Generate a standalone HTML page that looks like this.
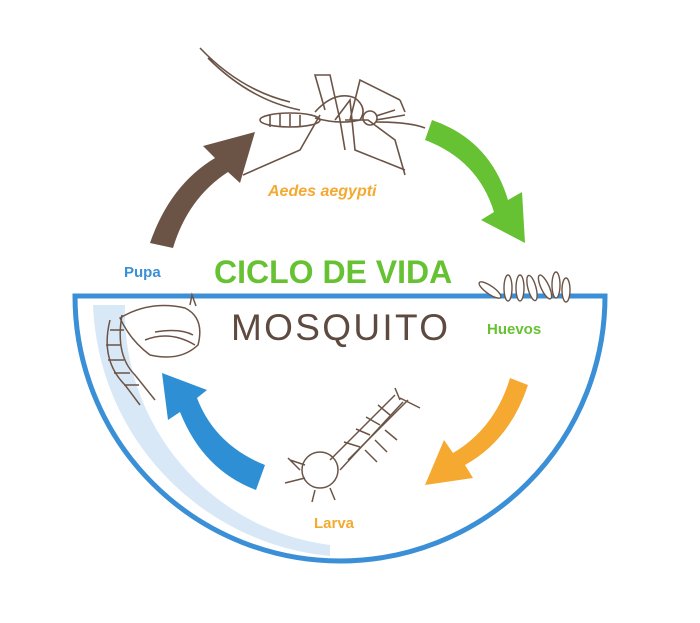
<!DOCTYPE html>
<html><head><meta charset="utf-8"><style>
body{margin:0;background:#fff;width:700px;height:623px;overflow:hidden}
svg{display:block}
text{font-family:"Liberation Sans",sans-serif}
</style></head><body>
<svg width="700" height="623" viewBox="0 0 700 623" xmlns="http://www.w3.org/2000/svg">
<!-- light water band -->
<path d="M93 305 L125 305 A235 235 0 0 0 330 545 L330 556 A262 262 0 0 1 93 305 Z" fill="#d8e8f7"/>
<!-- bowl -->
<path d="M75 296 L605 296 A265 265 0 0 1 75 296 Z" fill="none" stroke="#3a8fd6" stroke-width="5"/>
<!-- arrows -->
<path d="M150 243 Q170 185 215 158 L203 146 L255 132 L240 183 L228 172 Q188 198 173 248 Z" fill="#6b5446"/>
<path d="M425 140 L432 120 Q490 140 508 200 L522 192 L525 243 L481 220 L494 212 Q478 160 425 140 Z" fill="#66c232"/>
<path d="M510 378 L528 385 Q510 440 465 465 L473 478 L425 485 L444 440 L453 453 Q495 428 510 378 Z" fill="#f5a930"/>
<path d="M265 465 L256 490 Q203 470 180 412 L168 420 L162 373 L207 390 L197 398 Q215 445 265 465 Z" fill="#2f8fd4"/>
<!-- texts -->
<text x="214" y="283" font-size="32" font-weight="bold" fill="#66c232">CICLO DE VIDA</text>
<text x="231" y="340" font-size="37" fill="#5e4a3f" textLength="217">MOSQUITO</text>
<text x="124" y="277" font-size="15" font-weight="bold" fill="#3a8fd6">Pupa</text>
<text x="487" y="334" font-size="15" font-weight="bold" fill="#66c232">Huevos</text>
<text x="314" y="528" font-size="15" font-weight="bold" fill="#f5a930">Larva</text>
<text x="268" y="196" font-size="16" font-weight="bold" font-style="italic" fill="#f5a930">Aedes aegypti</text>
<!-- mosquito -->
<g fill="none" stroke="#6b5446" stroke-width="1.6">
<path d="M200 48 Q240 90 290 102 M208 58 Q250 100 300 110"/>
<ellipse cx="290" cy="120" rx="30" ry="7"/>
<path d="M270 115 v12 M280 114 v13 M290 114 v13 M300 115 v12"/>
<path d="M315 112 Q335 90 355 98 Q368 108 360 120 Q340 125 315 118"/>
<circle cx="370" cy="118" r="7"/>
<path d="M376 116 L395 110 M376 120 L405 115 M376 122 Q410 122 425 128 M400 100 L405 112"/>
<path d="M325 110 L315 75 L330 75 L340 120 L345 150 M320 115 L300 150 L243 175 M335 120 L350 100 L355 150 L405 170 M350 120 L360 80 L400 100 M345 120 L368 120 L395 140 L405 175"/>
</g>
<!-- eggs -->
<g fill="#fff" stroke="#6b5446" stroke-width="1.4">
<ellipse cx="490" cy="290" rx="4" ry="13" transform="rotate(-55 490 290)"/>
<ellipse cx="508" cy="288" rx="4" ry="13"/>
<ellipse cx="520" cy="288" rx="4" ry="13"/>
<ellipse cx="532" cy="288" rx="4" ry="13" transform="rotate(-15 532 288)"/>
<ellipse cx="545" cy="287" rx="4" ry="13" transform="rotate(-25 545 287)"/>
<ellipse cx="556" cy="285" rx="4" ry="13"/>
<ellipse cx="566" cy="290" rx="4" ry="12"/>
</g>
<!-- larva -->
<g fill="none" stroke="#6b5446" stroke-width="1.5">
<path d="M395 395 L330 460 M403 402 L340 470"/>
<path d="M398 410 l10 -10 M388 420 l10 -10 M378 430 l10 -10 M368 440 l10 -10 M358 450 l10 -10 M348 460 l10 -10"/>
<path d="M390 415 l-12 -10 M380 425 l-14 -8 M370 435 l-14 -6 M360 447 l-16 -5 M375 440 l12 12 M365 450 l12 12 M385 430 l12 10"/>
<circle cx="320" cy="470" r="18"/>
<path d="M305 465 l-15 -5 M305 478 l-20 5 M315 490 l-3 12 M330 488 l5 12 M300 470 l-12 -12"/>
<path d="M400 400 L395 388 M400 398 L420 408"/>
</g>
<!-- pupa -->
<g fill="none" stroke="#6b5446" stroke-width="1.5">
<path d="M110 320 Q100 360 125 385 L140 405 M122 315 Q115 355 135 375 L155 400"/>
<path d="M110 330 h14 M106 345 h15 M108 360 h16 M114 373 h16 M124 385 h15"/>
<path d="M120 318 Q150 300 185 308 Q205 318 198 345 Q180 362 150 355 Q130 340 120 318 Z"/>
<path d="M145 340 Q170 330 195 345 M155 332 Q180 328 193 335"/>
<path d="M190 305 L192 295 L196 306"/>
</g>
</svg>
</body></html>
